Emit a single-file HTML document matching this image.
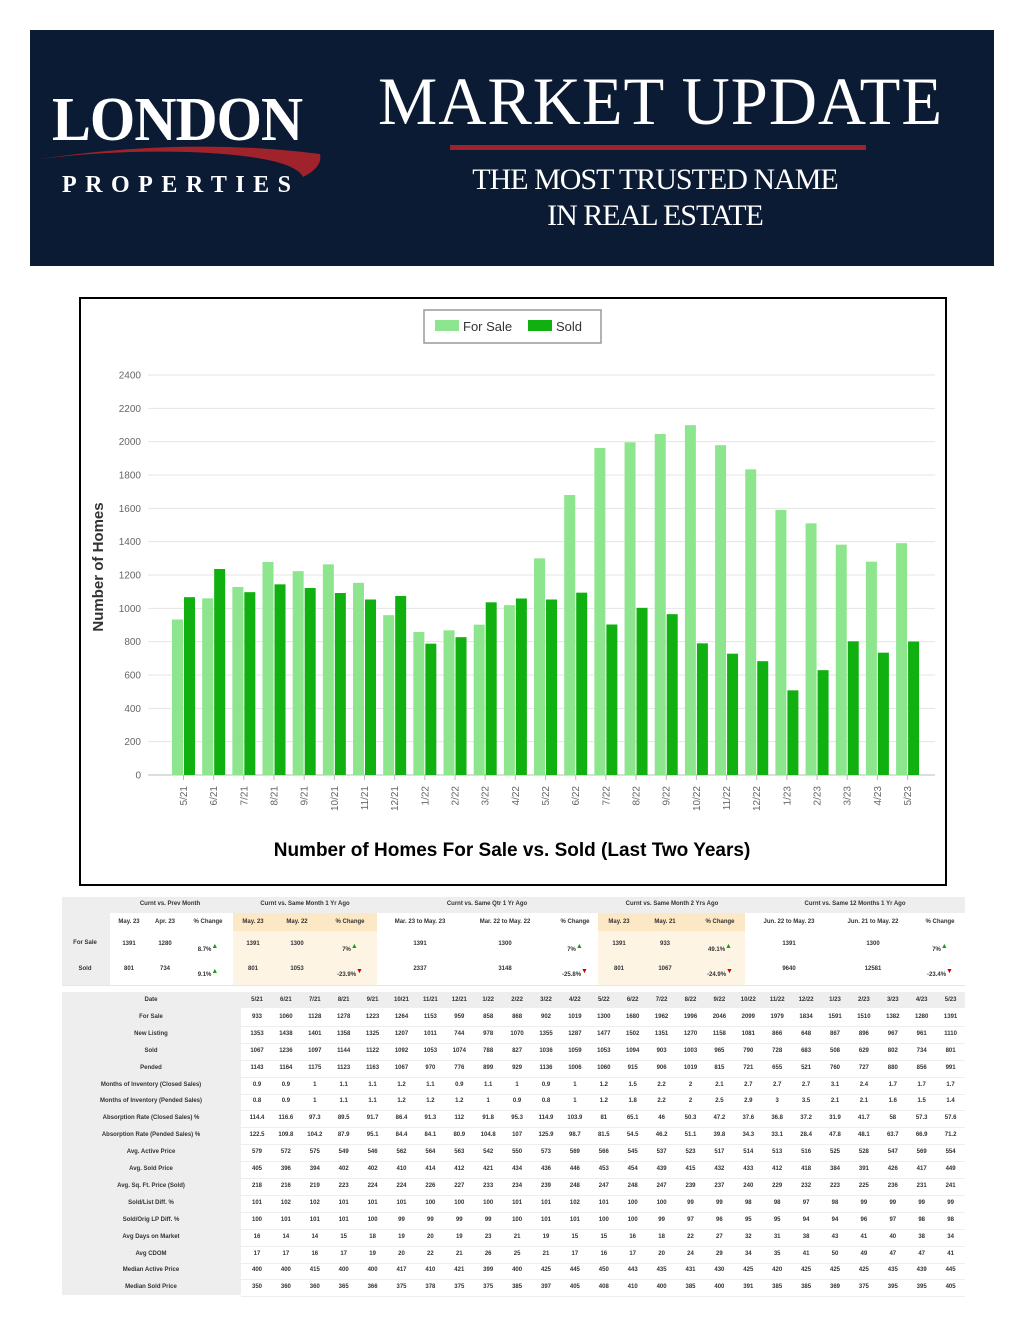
<!DOCTYPE html>
<html><head><meta charset="utf-8"><style>
*{margin:0;padding:0;box-sizing:border-box}
body{width:1024px;height:1325px;background:#fff;position:relative;font-family:"Liberation Sans",sans-serif;overflow:hidden}
.abs{position:absolute}
#banner{left:30px;top:30px;width:964px;height:236px;background:#0c1b34}
.serif{font-family:"Liberation Serif",serif;color:#fff}
#chartbox{left:79px;top:297px;width:868px;height:589px;border:2px solid #000}
.t{position:absolute;font-size:6px;color:#333;font-weight:bold;text-align:center;white-space:nowrap;transform:translateX(-50%)}
</style></head><body>
<div id="banner" class="abs">
  <div class="abs serif" style="left:22px;top:55px;font-size:62px;font-weight:bold;letter-spacing:-1px;transform:scaleX(0.94);transform-origin:left">LONDON</div>
  <svg class="abs" style="left:8px;top:112px" width="285" height="40"><path d="M2 17 Q150 -5 282 12 Q285 25 265 35 Q255 14 150 10 Q70 8 2 17Z" fill="#a0222a"/></svg>
  <div class="abs serif" style="left:32px;top:142px;font-size:24px;font-weight:bold;letter-spacing:8.5px">PROPERTIES</div>
  <div class="abs serif" style="left:348px;top:32px;font-size:68px;letter-spacing:1px;transform:scaleX(0.98);transform-origin:left">MARKET UPDATE</div>
  <div class="abs" style="left:420px;top:115px;width:416px;height:5px;background:#a0222a"></div>
  <div class="abs serif" style="left:325px;top:132px;width:600px;text-align:center;font-size:30px;line-height:36px;letter-spacing:-1px">THE MOST TRUSTED NAME<br>IN REAL ESTATE</div>
</div>
<div id="chartbox" class="abs"></div>
<svg id="chart" class="abs" style="left:0;top:0" width="1024" height="890"></svg>
<div id="tables"></div>
<script>
const months=["5/21","6/21","7/21","8/21","9/21","10/21","11/21","12/21","1/22","2/22","3/22","4/22","5/22","6/22","7/22","8/22","9/22","10/22","11/22","12/22","1/23","2/23","3/23","4/23","5/23"];
const forSale=[933,1060,1128,1278,1223,1264,1153,959,858,868,902,1019,1300,1680,1962,1996,2046,2099,1979,1834,1591,1510,1382,1280,1391];
const sold=[1067,1236,1097,1144,1122,1092,1053,1074,788,827,1036,1059,1053,1094,903,1003,965,790,728,683,508,629,802,734,801];
const yTicks=[0,200,400,600,800,1000,1200,1400,1600,1800,2000,2200,2400];
const NS="http://www.w3.org/2000/svg";
const svg=document.getElementById('chart');
const y=v=>775-v*(400/2400);
const x=i=>169+i*30.17+15;
function mk(tag,a){const e=document.createElementNS(NS,tag);for(const k in a)e.setAttribute(k,a[k]);svg.appendChild(e);return e;}
yTicks.forEach(v=>{
  const l=mk('line',{x1:148,x2:935,y1:y(v),y2:y(v),stroke:v===0?'#bbb':'#e4e4e4','stroke-width':1});
  
  
  const t=mk('text',{x:141,y:y(v)+3.5,'text-anchor':'end','font-size':10,fill:'#666','font-family':'Liberation Sans'});
  t.textContent=v;
  
  
});
months.forEach((m,i)=>{
  const cx=x(i);
  const b1=mk('rect',{x:cx-12,y:y(forSale[i]),width:11,height:775-y(forSale[i]),fill:'#8de68d'});
  
  
  const b2=mk('rect',{x:cx,y:y(sold[i]),width:11,height:775-y(sold[i]),fill:'#10b010'});
  
  
  const tk=mk('line',{x1:cx-0.5,x2:cx-0.5,y1:775,y2:780,stroke:'#bbb'});
  
  
  const t=mk('text',{x:0,y:0,'text-anchor':'end','font-size':10,fill:'#666','font-family':'Liberation Sans',transform:`translate(${cx+3},786) rotate(-90)`});
  t.textContent=m;
  
  
});
const yt=mk('text',{x:0,y:0,'text-anchor':'middle','font-size':15,'font-weight':'bold',fill:'#333','font-family':'Liberation Sans',transform:'translate(103,567) rotate(-90)'});
yt.textContent='Number of Homes';


const ct=mk('text',{x:512,y:856,'text-anchor':'middle','font-size':19,'font-weight':'bold',fill:'#000','font-family':'Liberation Sans'});
ct.textContent='Number of Homes For Sale vs. Sold (Last Two Years)';


const lg=mk('rect',{x:424,y:310,width:177,height:33,fill:'#fff',stroke:'#999','stroke-width':1.5});


const l1=mk('rect',{x:435,y:320,width:24,height:11,fill:'#8de68d'});


const lt1=mk('text',{x:463,y:331,'font-size':13,fill:'#333','font-family':'Liberation Sans'});
lt1.textContent='For Sale';


const l2=mk('rect',{x:528,y:320,width:24,height:11,fill:'#10b010'});


const lt2=mk('text',{x:556,y:331,'font-size':13,fill:'#333','font-family':'Liberation Sans'});
lt2.textContent='Sold';



const T=document.getElementById('tables');
function box(l,t,w,h,bg,name){const d=document.createElement('div');d.className='abs';d.style.cssText=`left:${l}px;top:${t}px;width:${w}px;height:${h}px;background:${bg}`;


T.appendChild(d);}
function txt(cx,cy,s,name){const d=document.createElement('div');d.className='t';d.style.left=cx+'px';d.style.top=(cy-4)+'px';d.innerHTML=s;


T.appendChild(d);}
box(62,897,903,16,'#eeeeee','summary-header');
box(62,913,48,72,'#eeeeee','summary-row-labels');
box(233,913,144,18,'#fde8c6','orange-header-1');box(233,931,144,54,'#fdf4e3','orange-col-1');
box(598,913,147,18,'#fde8c6','orange-header-2');box(598,931,147,54,'#fdf4e3','orange-col-2');
box(62,985,903,1,'#e6e6e6','summary-bottom');
const groups=[["Curnt vs. Prev Month",170],["Curnt vs. Same Month 1 Yr Ago",305],["Curnt vs. Same Qtr 1 Yr Ago",487],["Curnt vs. Same Month 2 Yrs Ago",672],["Curnt vs. Same 12 Months 1 Yr Ago",855]];
groups.forEach(g=>txt(g[1],905,g[0],'group-header'));
const cols=[129,165,208,253,297,350,420,505,575,619,665,720,789,873,940];
const sub=["May. 23","Apr. 23","% Change","May. 23","May. 22","% Change","Mar. 23 to May. 23","Mar. 22 to May. 22","% Change","May. 23","May. 21","% Change","Jun. 22 to May. 23","Jun. 21 to May. 22","% Change"];
sub.forEach((s,i)=>txt(cols[i],923,s,'column-header'));
const up='<span style="color:#1a9a1a;font-size:7px;vertical-align:3px">▲</span>',dn='<span style="color:#c00;font-size:7px;vertical-align:3px">▼</span>';
const fsRow=["1391","1280","8.7%"+up,"1391","1300","7%"+up,"1391","1300","7%"+up,"1391","933","49.1%"+up,"1391","1300","7%"+up];
const soldRow=["801","734","9.1%"+up,"801","1053","-23.9%"+dn,"2337","3148","-25.8%"+dn,"801","1067","-24.9%"+dn,"9640","12581","-23.4%"+dn];
txt(85,944,"For Sale",'row-label');txt(85,970,"Sold",'row-label');
fsRow.forEach((s,i)=>txt(cols[i],i%3==2?947:945,s,'summary-cell'));
soldRow.forEach((s,i)=>txt(cols[i],i%3==2?972:970,s,'summary-cell'));
const rows=[["Date",months],["For Sale",forSale],
["New Listing",[1353,1438,1401,1358,1325,1207,1011,744,978,1070,1355,1287,1477,1502,1351,1270,1158,1081,866,648,867,896,967,961,1110]],
["Sold",sold],
["Pended",[1143,1164,1175,1123,1163,1067,970,776,899,929,1136,1006,1060,915,906,1019,815,721,655,521,760,727,880,856,991]],
["Months of Inventory (Closed Sales)",[0.9,0.9,1,1.1,1.1,1.2,1.1,0.9,1.1,1,0.9,1,1.2,1.5,2.2,2,2.1,2.7,2.7,2.7,3.1,2.4,1.7,1.7,1.7]],
["Months of Inventory (Pended Sales)",[0.8,0.9,1,1.1,1.1,1.2,1.2,1.2,1,0.9,0.8,1,1.2,1.8,2.2,2,2.5,2.9,3,3.5,2.1,2.1,1.6,1.5,1.4]],
["Absorption Rate (Closed Sales) %",[114.4,116.6,97.3,89.5,91.7,86.4,91.3,112,91.8,95.3,114.9,103.9,81,65.1,46,50.3,47.2,37.6,36.8,37.2,31.9,41.7,58,57.3,57.6]],
["Absorption Rate (Pended Sales) %",[122.5,109.8,104.2,87.9,95.1,84.4,84.1,80.9,104.8,107,125.9,98.7,81.5,54.5,46.2,51.1,39.8,34.3,33.1,28.4,47.8,48.1,63.7,66.9,71.2]],
["Avg. Active Price",[579,572,575,549,546,562,564,563,542,550,573,569,566,545,537,523,517,514,513,516,525,528,547,569,554]],
["Avg. Sold Price",[405,396,394,402,402,410,414,412,421,434,436,446,453,454,439,415,432,433,412,418,384,391,426,417,449]],
["Avg. Sq. Ft. Price (Sold)",[218,216,219,223,224,224,226,227,233,234,239,248,247,248,247,239,237,240,229,232,223,225,236,231,241]],
["Sold/List Diff. %",[101,102,102,101,101,101,100,100,100,101,101,102,101,100,100,99,99,98,98,97,98,99,99,99,99]],
["Sold/Orig LP Diff. %",[100,101,101,101,100,99,99,99,99,100,101,101,100,100,99,97,96,95,95,94,94,96,97,98,98]],
["Avg Days on Market",[16,14,14,15,18,19,20,19,23,21,19,15,15,16,18,22,27,32,31,38,43,41,40,38,34]],
["Avg CDOM",[17,17,16,17,19,20,22,21,26,25,21,17,16,17,20,24,29,34,35,41,50,49,47,47,41]],
["Median Active Price",[400,400,415,400,400,417,410,421,399,400,425,445,450,443,435,431,430,425,420,425,425,425,435,439,445]],
["Median Sold Price",[350,360,360,365,366,375,378,375,375,385,397,405,408,410,400,385,400,391,385,385,369,375,395,395,405]]];
box(62,992,903,16,'#eeeeee','detail-header');
box(62,1008,179,287,'#eeeeee','detail-row-labels');
rows.forEach((r,ri)=>{
  const cy=1001+ri*16.9;
  if(ri>0) box(241,cy+8,724,1,'#eeeeee','row-divider');
  txt(151,cy,r[0],'detail-row-label');
  r[1].forEach((v,i)=>txt(257+i*28.9,cy,v,'detail-cell'));
});
</script>
</body></html>
